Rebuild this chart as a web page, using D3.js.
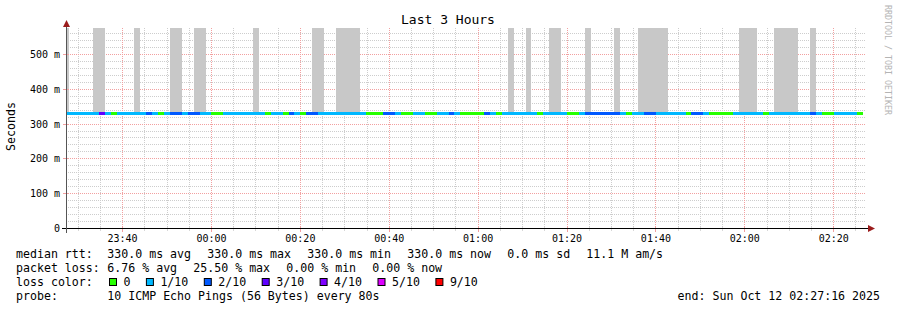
<!DOCTYPE html>
<html>
<head>
<meta charset="utf-8">
<script src="https://cdn.jsdelivr.net/npm/d3@7/dist/d3.min.js"></script>
<style>
  body { margin: 0; background: #fff; }
  text { font-family: "DejaVu Sans Mono", monospace; fill: #000; }
</style>
</head>
<body>
<svg id="vis" width="897" height="310"></svg>
<script>
// ---- data -------------------------------------------------------------
const startTime = new Date("2025-10-11T23:27:16Z");
const endTime = new Date("2025-10-12T02:27:16Z");
const firstStepEnd = new Date("2025-10-11T23:28:00Z");
const stepSeconds = 80;
const medianRtt = 0.330;   // seconds, flat for the whole period
const smokeTop = 0.600;    // ping spread goes past the top of the chart

// packet loss bin (out of 10 pings) for each 80s step
const lossPerStep = [
  1,1,1,1,1,1,3,1,0,1,
  1,1,1,1,2,1,0,1,2,2,
  1,2,2,1,1,0,0,1,1,1,
  1,1,1,1,0,1,1,0,2,1,
  0,2,2,1,1,1,1,1,1,1,
  1,0,0,0,2,2,1,0,0,1,
  1,0,0,1,1,2,1,0,0,0,
  0,2,1,0,1,1,1,1,1,1,
  0,1,1,1,1,0,0,1,2,2,
  2,2,2,2,1,0,1,1,2,2,
  1,1,1,1,1,0,2,2,1,0,
  0,0,0,1,1,1,1,1,0,1,
  1,1,1,1,1,1,2,1,0,0,
  1,1,1,1,0
];

// steps where the ping spread (smoke) reaches above the chart
const smokeSteps = [0,5,6,12,18,19,22,23,32,42,43,46,47,48,49,75,78,82,83,88,93,
                    97,98,99,100,101,114,115,116,120,121,122,123,126];

const lossKeys = [0, 1, 2, 3, 4, 5, 9];
const lossLabels = ["0", "1/10", "2/10", "3/10", "4/10", "5/10", "9/10"];
const lossColors = ["#26ff00", "#00b8ff", "#0059ff", "#5e00ff", "#7e00ff", "#dd00ff", "#ff0000"];

const yTicks = [0, 0.1, 0.2, 0.3, 0.4, 0.5];
const yTickLabels = ["0", "100 m", "200 m", "300 m", "400 m", "500 m"];

const rttStats = ["330.0 ms avg", "330.0 ms max", "330.0 ms min", "330.0 ms now", "0.0 ms sd", "11.1 M am/s"];
const lossStats = ["6.76 % avg", "25.50 % max", "0.00 % min", "0.00 % now"];
const probeText = "10 ICMP Echo Pings (56 Bytes) every 80s";
const endText = "end: Sun Oct 12 02:27:16 2025";

// ---- chart ------------------------------------------------------------
var svg = d3.select("#vis");

var x = d3.scaleUtc().domain([startTime, endTime]).range([66, 866]);
var y = d3.scaleLinear().domain([0, 0.576]).range([228.5, 28]).clamp(true);

var steps = lossPerStep.map(function(loss, i) {
  var end = new Date(firstStepEnd.getTime() + i * stepSeconds * 1000);
  var start = new Date(Math.max(end.getTime() - stepSeconds * 1000, startTime.getTime()));
  return { i: i, start: start, end: end, loss: loss };
});

var colorFor = d3.scaleOrdinal().domain(lossKeys).range(lossColors);
var minorColor = "#cdcdcd", majorColor = "#f2a0a0";

// grid
var grid = svg.append("g").attr("shape-rendering", "crispEdges");
var minorY = d3.range(1, 29).map(function(k) { return k * 0.02; })
  .filter(function(v) { return Math.round(v * 100) % 10 !== 0; });
grid.selectAll(".minory").data(minorY).enter().append("line")
  .attr("x1", 66).attr("x2", 866)
  .attr("y1", function(d) { return y(d); }).attr("y2", function(d) { return y(d); })
  .attr("stroke", minorColor).attr("stroke-dasharray", "1,1");

var minorX = x.ticks(d3.utcMinute.every(5)).filter(function(d) { return d.getUTCMinutes() % 20 !== 0; });
var majorX = x.ticks(d3.utcMinute.every(20));
grid.selectAll(".minorx").data(minorX).enter().append("line")
  .attr("x1", function(d) { return x(d); }).attr("x2", function(d) { return x(d); })
  .attr("y1", 28).attr("y2", 228)
  .attr("stroke", minorColor).attr("stroke-dasharray", "1,1");

grid.selectAll(".majory").data(yTicks.slice(1)).enter().append("line")
  .attr("x1", 66).attr("x2", 866)
  .attr("y1", function(d) { return y(d); }).attr("y2", function(d) { return y(d); })
  .attr("stroke", majorColor).attr("stroke-dasharray", "1,1");
grid.selectAll(".majorx").data(majorX).enter().append("line")
  .attr("x1", function(d) { return x(d); }).attr("x2", function(d) { return x(d); })
  .attr("y1", 28).attr("y2", 228)
  .attr("stroke", majorColor).attr("stroke-dasharray", "1,1");

// smoke
svg.append("g").attr("shape-rendering", "crispEdges")
  .selectAll("rect").data(steps.filter(function(d) { return smokeSteps.indexOf(d.i) >= 0; }))
  .enter().append("rect")
  .attr("x", function(d) { return x(d.start); })
  .attr("width", function(d) { return x(d.end) - x(d.start); })
  .attr("y", y(smokeTop))
  .attr("height", y(medianRtt) - y(smokeTop))
  .attr("fill", "#c8c8c8");

// median line coloured by loss
svg.append("g").attr("shape-rendering", "crispEdges")
  .selectAll("rect").data(steps).enter().append("rect")
  .attr("x", function(d) { return x(d.start); })
  .attr("width", function(d) { return x(d.end) - x(d.start); })
  .attr("y", y(medianRtt) - 1.5)
  .attr("height", 3)
  .attr("fill", function(d) { return colorFor(d.loss); });

// axes
var axes = svg.append("g").attr("shape-rendering", "crispEdges");
axes.selectAll(".xtick").data(majorX).enter().append("line")
  .attr("x1", function(d) { return x(d); }).attr("x2", function(d) { return x(d); })
  .attr("y1", 226).attr("y2", 232).attr("stroke", majorColor);
axes.selectAll(".xtickm").data(minorX).enter().append("line")
  .attr("x1", function(d) { return x(d); }).attr("x2", function(d) { return x(d); })
  .attr("y1", 227).attr("y2", 231).attr("stroke", "#d8d8d8");
axes.selectAll(".ytick").data(yTicks).enter().append("line")
  .attr("x1", 63).attr("x2", 69)
  .attr("y1", function(d) { return y(d); }).attr("y2", function(d) { return y(d); })
  .attr("stroke", majorColor);
axes.append("line").attr("x1", 62).attr("x2", 870).attr("y1", 228.5).attr("y2", 228.5)
  .attr("stroke", "#000");
axes.append("line").attr("x1", 66.5).attr("x2", 66.5).attr("y1", 233).attr("y2", 25)
  .attr("stroke", "#555");
svg.append("path").attr("d", "M868,225 L875,228.5 L868,232 Z").attr("fill", "#9b1c1c");
svg.append("path").attr("d", "M63,27 L66.5,20 L70,27 Z").attr("fill", "#9b1c1c");

// tick labels
svg.selectAll(".ylab").data(yTicks).enter().append("text")
  .attr("x", 60).attr("y", function(d) { return y(d) + 3.6; })
  .attr("text-anchor", "end").attr("font-size", "10px")
  .text(function(d, i) { return yTickLabels[i]; });
svg.selectAll(".xlab").data(majorX).enter().append("text")
  .attr("x", function(d) { return x(d); }).attr("y", 241.5)
  .attr("text-anchor", "middle").attr("font-size", "10px")
  .text(d3.utcFormat("%H:%M"));

// titles
svg.append("text").attr("x", 448).attr("y", 24).attr("text-anchor", "middle")
  .attr("font-size", "13px").text("Last 3 Hours");
svg.append("text").attr("transform", "translate(15,126.5) rotate(-90)")
  .attr("text-anchor", "middle").attr("font-size", "11.6px").text("Seconds");
svg.append("text").attr("transform", "translate(884.5,5) rotate(90)")
  .attr("font-size", "8.3px").style("fill", "#b4b4b4").text("RRDTOOL / TOBI OETIKER");

// legend: items laid out one after another, 16px apart
var charW = 7, gap = 16, valueX = 107.3;
function legendRow(label, items, yPos) {
  legend.append("text").attr("x", 16).attr("y", yPos).text(label);
  var px = valueX;
  items.forEach(function(t) {
    legend.append("text").attr("x", px).attr("y", yPos).text(t);
    px += t.length * charW + gap;
  });
}
var legend = svg.append("g").attr("font-size", "11.6px");
legendRow("median rtt:", rttStats, 258);
legendRow("packet loss:", lossStats, 272);
legend.append("text").attr("x", 16).attr("y", 286).text("loss color:");

var cx = 109;
lossLabels.forEach(function(lab, i) {
  legend.append("rect").attr("x", cx + 0.5).attr("y", 278.5).attr("width", 7).attr("height", 7)
    .attr("fill", lossColors[i]).attr("stroke", "#000").attr("stroke-width", 1);
  legend.append("text").attr("x", cx + 14.5).attr("y", 286).text(lab);
  cx = cx + 14.5 + lab.length * charW + 15.4;
});

legendRow("probe:", [probeText], 300);
legend.append("text").attr("x", 880).attr("y", 300).attr("text-anchor", "end").text(endText);
</script>
</body>
</html>
